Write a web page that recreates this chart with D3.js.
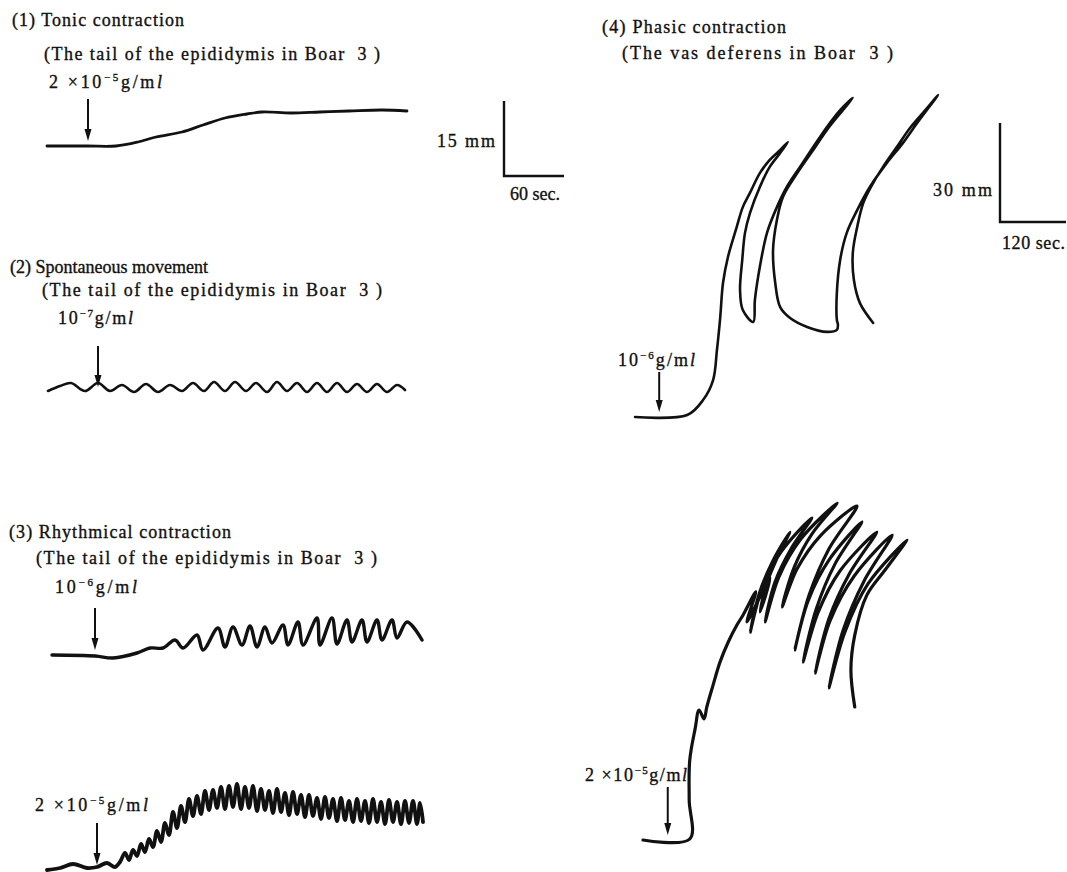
<!DOCTYPE html>
<html>
<head>
<meta charset="utf-8">
<script src="https://cdn.jsdelivr.net/npm/d3@7"></script>
<style>
  html, body { margin: 0; padding: 0; background: #fff; }
  svg text { font-family: "Liberation Serif", "Times New Roman", serif; fill: #111; stroke: #111; stroke-width: 0.35; }
</style>
</head>
<body>
<svg id="fig" width="1067" height="872"></svg>
<script>
// ---- data: [sec, mm] pairs ----
const tonicTrace = [[0,0],[40,0],[69,0],[91,0.8],[109,1.8],[135,2.8],[156,4.2],[178,5.6],[200,6.4],
  [215,6.8],[244,6.6],[273,6.8],[302,7.0],[335,7.2],[360,7.0]];

const spontaneousTrace = [[0,0.2],[12,1.2],[23,1.8],[37,0.2],[50,1.8],[62,0.2],[74,1.4],[86,0],[98,1.6],
  [110,0],[122,1.4],[134,0.2],[145,1.8],[156,0.2],[166,2.0],[177,0.2],[187,2.0],[198,0.2],[208,1.8],
  [219,0],[229,2.0],[239,0.2],[249,1.8],[259,0],[269,1.8],[279,0],[289,1.8],[299,0],[309,1.6],[319,0],
  [329,1.6],[339,0],[349,1.4],[357,0.4]];

const rhythmicLowTrace = [[0,0],[43,-0.2],[61,-0.6],[85,0.4],[98,1.4],[111,1.4],[123,3.0],[131,1.4],
  [145,4.0],[151,1.0],[166,5.4],[173,1.6],[181,5.6],[190,2.0],[198,5.8],[205,1.6],[213,5.6],[220,2.4],
  [231,6.0],[236,2.0],[246,6.6],[251,2.0],[265,7.4],[268,2.0],[280,7.4],[285,2.2],[295,7.0],[300,2.6],
  [310,7.0],[315,2.6],[325,7.0],[330,3.0],[340,7.0],[345,3.4],[355,6.6],[370,3.0]];

const rhythmicHighTrace = [[0,0],[13,0.4],[26,1.2],[40,0.4],[50,0.6],[60,1.4],[68,0.6],[73,1.6],
  [78,3.4],[82,2.0],[86,4.0],[90,2.8],[94,5.2],[98,3.6],[102,6.2],[106,4.6],[110,7.8],[114,5.6],
  [118,9.4],[122,7.0],[126,11.6],[130,8.4],[134,12.8],[138,9.6],[142,14.2],[146,10.8],[150,14.8],
  [154,11.2],[158,15.8],[162,12.0],[166,16.0],[170,12.4],[174,16.6],[178,12.2],[182,16.8],[186,12.6],
  [190,17.2],[194,12.2],[198,16.6],[202,12.4],[206,16.8],[210,11.8],[214,16.2],[218,12.0],[222,15.8],
  [226,11.4],[230,16.2],[234,11.6],[238,15.4],[242,11.0],[246,15.6],[250,11.2],[254,15.0],[258,10.6],
  [262,15.0],[266,10.8],[270,14.4],[274,10.2],[278,14.6],[282,10.4],[286,14.2],[290,9.8],[294,14.4],
  [298,10.0],[302,13.8],[306,9.6],[310,14.2],[314,9.8],[318,13.8],[322,9.4],[326,14.2],[330,9.6],
  [334,13.6],[338,9.2],[342,14.0],[346,9.6],[350,13.6],[354,9.2],[358,13.8],[362,9.4],[366,13.8],
  [370,9.2],[373,13.4],[376,9.6]];

const phasicLowTrace = [[0,0],[95,0.6],[124,5.2],[142,11.2],[149,20.3],[155,30.3],[160,40.6],[169,48.5],
  [185,57.6],[196,63.6],[209,67.9],[227,73.9],[245,77.9],[264,80.9],[278,83.3],
  [264,80.0],[245,75.8],[227,69.7],[209,61.8],[200,55.8],[195,47.6],[191,38.5],[196,32.4],[215,28.8],
  [218,35.5],[227,45.5],[240,55.8],[258,63.6],[276,69.7],[300,75.8],[324,81.8],[349,87.9],[373,93.0],[396,96.7],
  [378,93.0],[349,87.0],[324,80.9],[295,73.9],[269,66.7],[258,59.7],[251,50.6],[255,40.6],[264,33.3],
  [282,30.0],[313,27.3],[349,25.8],[367,26.4],[369,27.9],
  [367,29.4],[367,37.6],[373,47.6],[385,55.8],[404,62.7],[427,69.7],[458,77.0],[487,83.0],[513,89.1],[551,97.6],
  [531,93.6],[500,87.6],[476,81.8],[451,75.8],[433,70.9],[415,64.8],[404,57.6],[396,49.7],[398,41.5],
  [409,34.5],[433,28.5]];

const phasicHighTrace = [[0,0],[85,0.3],[84,12.1],[85,24.2],[95,33.9],[102,39.4],[111,36.7],[116,40.3],
  [127,46.7],[140,53.9],[155,60.0],[171,65.2],[182,68.2],
  [205,75.2],[189,66.1],[231,79.4],[213,69.1],[224,77.3],[244,85.5],
  [267,93.3],[235,84.2],[211,74.5],[195,63.0],
  [216,76.1],[251,87.3],[307,97.6],[269,88.2],[240,78.2],[222,66.1],
  [247,79.7],[287,91.2],[353,102.1],[307,92.7],[275,82.7],[253,70.6],
  [280,82.1],[322,92.1],[389,101.2],[338,88.2],[302,74.2],[276,57.6],
  [300,72.4],[338,84.8],[398,96.4],[349,83.6],[315,70.0],[291,53.9],
  [318,68.8],[358,81.5],[425,93.3],[375,80.6],[338,67.0],[313,50.6],
  [340,66.4],[384,80.0],[453,92.4],[402,78.5],[364,63.6],[338,46.1],
  [367,63.0],[409,77.6],[480,90.9],[440,81.8],[407,74.2],[385,62.1],[378,51.5],[385,40.3]];

// drug added (arrow time, sec) and its dose label
const arrowTimes = [41, 50, 43, 50, 44, 45];
const doseMantissa = ["2 \u00d710", "10", "10", "2 \u00d710", "10", "2 \u00d710"];
const doseExponent = ["\u22125", "\u22127", "\u22126", "\u22125", "\u22126", "\u22125"];

const titles = ["(1) Tonic contraction", "(2) Spontaneous movement", "(3) Rhythmical contraction", "(4) Phasic contraction"];
const subtitles = ["(The tail of the epididymis in Boar\u00a0\u00a03 )", "(The tail of the epididymis in Boar\u00a0\u00a03 )",
  "(The tail of the epididymis in Boar\u00a0\u00a03 )", "(The vas deferens in Boar\u00a0\u00a03 )"];

const scaleMm = [15, 30];
const scaleSec = [60, 120];

// ---- scales: left record (1-3) and right record (4-5) ----
const xLeft = d3.scaleLinear().domain([0, 60]).range([0, 60]);
const yLeft = d3.scaleLinear().domain([0, 15]).range([0, -75]);
const xRight = d3.scaleLinear().domain([0, 120]).range([0, 66]);
const yRight = d3.scaleLinear().domain([0, 30]).range([0, -99]);

const svg = d3.select('#fig');

// layout of each trace
const traces = [
  {data: tonicTrace, ox: 47, oy: 146, x: xLeft, y: yLeft, w: 2.8, lab: [49, 88, 113], alen: 42},
  {data: spontaneousTrace, ox: 48, oy: 392, x: xLeft, y: yLeft, w: 2.6, lab: [58, 324, 75], alen: 41},
  {data: rhythmicLowTrace, ox: 52, oy: 655, x: xLeft, y: yLeft, w: 3.4, lab: [55, 593, 82], alen: 42},
  {data: rhythmicHighTrace, ox: 47, oy: 870, x: xLeft, y: yLeft, w: 3.8, lab: [35, 811, 113], alen: 42},
  {data: phasicLowTrace, ox: 635, oy: 417, x: xRight, y: yRight, w: 2.6, lab: [618, 366, 77], alen: 40},
  {data: phasicHighTrace, ox: 643, oy: 840, x: xRight, y: yRight, w: 3.2, lab: [585, 781, 102], alen: 48}
];

traces.forEach((tr, i) => {
  const g = svg.append('g').attr('transform', `translate(${tr.ox},${tr.oy})`);

  const line = d3.line()
    .x(d => tr.x(d[0]))
    .y(d => tr.y(d[1]))
    .curve(d3.curveCatmullRom.alpha(0.5));

  g.append('path')
    .datum(tr.data)
    .attr('d', line)
    .attr('fill', 'none')
    .attr('stroke', '#111')
    .attr('stroke-width', tr.w)
    .attr('stroke-linecap', 'round')
    .attr('stroke-linejoin', 'round');

  // arrow marking the drug
  const ax = tr.x(arrowTimes[i]);
  const tip = tr.y(0) - 5;
  g.append('line')
    .attr('x1', ax).attr('x2', ax)
    .attr('y1', tip - tr.alen).attr('y2', tip - 8)
    .attr('stroke', '#111').attr('stroke-width', 2);
  g.append('path')
    .attr('d', `M${ax - 3.5},${tip - 12}L${ax + 3.5},${tip - 12}L${ax},${tip}Z`)
    .attr('fill', '#111');

  // dose label
  const t = svg.append('text')
    .attr('x', tr.lab[0]).attr('y', tr.lab[1])
    .attr('font-size', 18)
    .attr('textLength', tr.lab[2])
    .attr('lengthAdjust', 'spacing');
  t.append('tspan').text(doseMantissa[i]);
  t.append('tspan').attr('dy', -7).attr('font-size', 11).text(doseExponent[i]);
  t.append('tspan').attr('dy', 7).text('g/m');
  t.append('tspan').attr('font-style', 'italic').text('l');
});

// titles (null width = natural spacing)
const titlePos = [[12, 26, 172, 44, 60, 336], [10, 273, null, 42, 296, 340],
  [9, 538, 222, 36, 564, 341], [602, 33, 184, 622, 59, 271]];
titlePos.forEach((p, i) => {
  const tt = svg.append('text').attr('x', p[0]).attr('y', p[1]).attr('font-size', 18).text(titles[i]);
  if (p[2]) tt.attr('textLength', p[2]).attr('lengthAdjust', 'spacing');
  svg.append('text').attr('x', p[3]).attr('y', p[4]).attr('font-size', 18)
    .attr('textLength', p[5]).attr('lengthAdjust', 'spacing').text(subtitles[i]);
});

// calibration bars
const bars = [
  {ox: 504, oy: 176, x: xLeft, y: yLeft, mmX: 437, mmY: 147, mmW: 58, secX: 510, secY: 200, secW: 50},
  {ox: 1000, oy: 222, x: xRight, y: yRight, mmX: 933, mmY: 196, mmW: 59, secX: 1002, secY: 249, secW: 63}
];
bars.forEach((b, i) => {
  const g = svg.append('g').attr('transform', `translate(${b.ox},${b.oy})`);
  g.append('path')
    .attr('d', `M0,${b.y(scaleMm[i])}L0,0L${b.x(scaleSec[i])},0`)
    .attr('fill', 'none').attr('stroke', '#111').attr('stroke-width', 2.4);
  svg.append('text').attr('x', b.mmX).attr('y', b.mmY).attr('font-size', 18)
    .attr('textLength', b.mmW).attr('lengthAdjust', 'spacing').text(scaleMm[i] + ' mm');
  svg.append('text').attr('x', b.secX).attr('y', b.secY).attr('font-size', 18)
    .attr('textLength', b.secW).attr('lengthAdjust', 'spacing').text(scaleSec[i] + ' sec.');
});
</script>
</body>
</html>
